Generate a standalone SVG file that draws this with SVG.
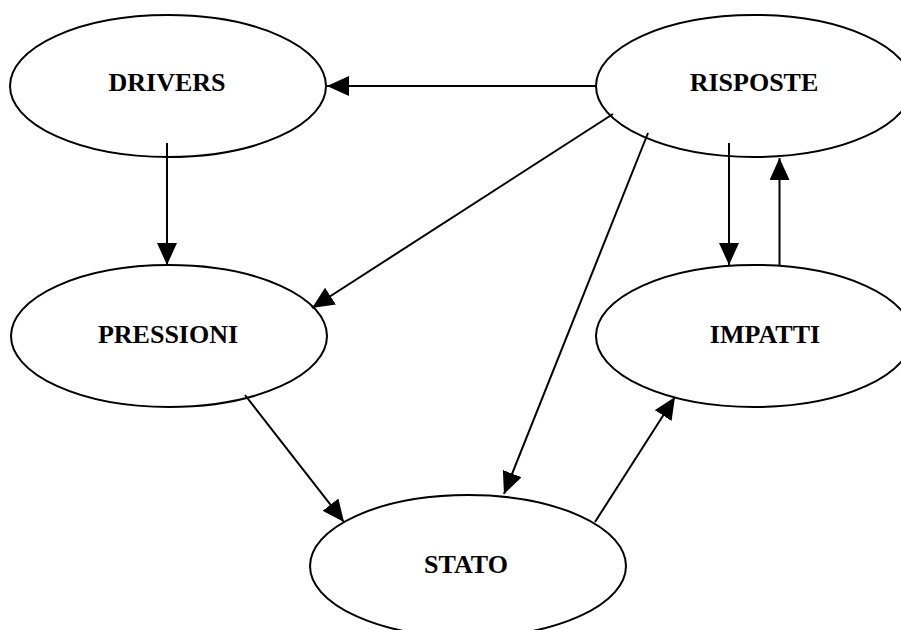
<svg xmlns="http://www.w3.org/2000/svg" width="901" height="630" viewBox="0 0 901 630">
<style>
.node ellipse{fill:#fff;stroke:#000;stroke-width:2}
.node text{font-family:"Liberation Serif","Times New Roman",serif;font-weight:bold;font-size:26px;fill:#000;text-anchor:middle}
.edges line{stroke:#000;stroke-width:2;marker-end:url(#ah)}
</style>
<defs>
<marker id="ah" viewBox="0 0 22 20" refX="22" refY="10" markerWidth="22" markerHeight="20" markerUnits="userSpaceOnUse" orient="auto">
<path d="M0,0 L22,10 L0,20 z" fill="#000"/>
</marker>
</defs>
<rect width="901" height="630" fill="#fff"/>
<g id="drivers" class="node"><ellipse cx="168" cy="86" rx="158" ry="71"/><text x="167" y="91">DRIVERS</text></g>
<g id="risposte" class="node"><ellipse cx="754" cy="86" rx="158" ry="71"/><text x="754" y="91">RISPOSTE</text></g>
<g id="pressioni" class="node"><ellipse cx="169" cy="336" rx="158" ry="71"/><text x="168" y="343">PRESSIONI</text></g>
<g id="impatti" class="node"><ellipse cx="754" cy="336" rx="158" ry="71"/><text x="765" y="343">IMPATTI</text></g>
<g id="stato" class="node"><ellipse cx="468" cy="566" rx="158" ry="71"/><text x="466" y="573">STATO</text></g>
<g id="edges" class="edges">
<line x1="596" y1="86" x2="327" y2="86"/>
<line x1="613" y1="114" x2="312" y2="308"/>
<line x1="648" y1="133" x2="504" y2="494"/>
<line x1="729" y1="143" x2="729" y2="265"/>
<line x1="779.5" y1="265" x2="779.5" y2="158"/>
<line x1="167" y1="143" x2="167" y2="265"/>
<line x1="245" y1="395" x2="344" y2="522"/>
<line x1="595" y1="522" x2="675" y2="397"/>
</g>
</svg>
